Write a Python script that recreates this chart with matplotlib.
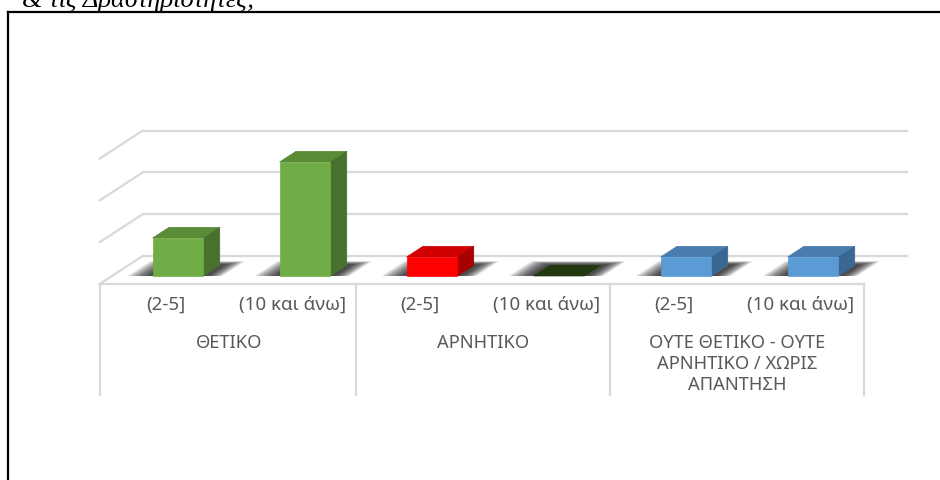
import matplotlib
matplotlib.use("Agg")
import matplotlib.pyplot as plt
from matplotlib.patches import Polygon
from matplotlib.lines import Line2D

# ---- data -------------------------------------------------------------
title = "& τις Δραστηριότητες;"
groups = ["ΘΕΤΙΚΟ", "ΑΡΝΗΤΙΚΟ", "ΟΥΤΕ ΘΕΤΙΚΟ - ΟΥΤΕ\nΑΡΝΗΤΙΚΟ / ΧΩΡΙΣ\nΑΠΑΝΤΗΣΗ"]
subcats = ["(2-5]", "(10 και άνω]"]
values = [2, 6, 1, 0, 1, 1]
grid_levels = [0, 2.2, 4.4, 6.6]

front_colors = ["#70AD47", "#70AD47", "#FF0000", "#22380F", "#5B9BD5", "#5B9BD5"]
top_colors = ["#5A8C38", "#5A8C38", "#D00000", "#22380F", "#4A7DAE", "#4A7DAE"]
side_colors = ["#47712C", "#47712C", "#A60000", "#22380F", "#3B6793", "#3B6793"]

# ---- layout -----------------------------------------------------------
W, H, DPI = 940, 480, 100
PLOT_LEFT, PLOT_W = 114.5, 762.0        # px, front plane of the bars
BASE_Y, UNIT_PX = 276.0, 19.0           # px from top, px per value unit
DEPTH_PX = (43.0, 28.0)                 # oblique depth vector of the floor
BAR_D0, BAR_DEPTH, BAR_HW = 0.286, 0.38, 0.2
XL, XR = -0.52, 5.5
GRID_C = "#D9D9D9"
TEXT_C = "#595959"

fig = plt.figure(figsize=(W / DPI, H / DPI), dpi=DPI)
fig.patch.set_facecolor("white")
ymax = grid_levels[-1]
ax = fig.add_axes([PLOT_LEFT / W, (H - BASE_Y) / H, PLOT_W / W, ymax * UNIT_PX / H])
n = len(values)
ax.set_xlim(-0.5, n - 0.5)
ax.set_ylim(0, ymax)
ax.axis("off")

px_x = PLOT_W / n
px_y = UNIT_PX
DX, DY = DEPTH_PX[0] / px_x, DEPTH_PX[1] / px_y


def P(x, y, d):
    """Project a point (x, value, depth) onto the axes plane."""
    return (x + (d - BAR_D0) * DX, y + (d - BAR_D0) * DY)


def seg(p, q, **kw):
    ax.add_line(Line2D([p[0], q[0]], [p[1], q[1]], clip_on=False, **kw))


# back wall, side wall and floor
for g in grid_levels:
    seg(P(XL, g, 1), P(XR, g, 1), color=GRID_C, lw=1.6, zorder=1)
    seg(P(XL, g, 1), P(XL, g, 0), color=GRID_C, lw=1.6, zorder=1)
seg(P(XL, 0, 0), P(XR, 0, 0), color=GRID_C, lw=1.6, zorder=1)

# category separators below the floor
sep_len = 111.0 / px_y
for x in [XL, 1.5, 3.5, XR]:
    p = P(x, 0, 0)
    seg(p, (p[0], p[1] - sep_len), color=GRID_C, lw=1.6, zorder=1)

# soft floor shadows
N_SH = 20
for i, v in enumerate(values):
    for k in range(N_SH):
        e = 1 - k / N_SH
        xl = i - BAR_HW - 0.02 - 0.18 * e
        xr = i + BAR_HW + 0.03 + 0.12 * e
        d0 = BAR_D0
        d1 = BAR_D0 + BAR_DEPTH + 0.03 + 0.12 * e
        poly = [P(xl, 0, d0), P(xr, 0, d0), P(xr, 0, d1), P(xl, 0, d1)]
        ax.add_patch(Polygon(poly, closed=True, facecolor="black", edgecolor="none",
                             alpha=0.055, zorder=2, clip_on=False))

# 3-D columns
d1 = BAR_D0 + BAR_DEPTH
for i, v in enumerate(values):
    a, b = i - BAR_HW, i + BAR_HW
    top = [P(a, v, BAR_D0), P(b, v, BAR_D0), P(b, v, d1), P(a, v, d1)]
    ax.add_patch(Polygon(top, closed=True, facecolor=top_colors[i],
                         edgecolor=top_colors[i], lw=0.5, zorder=3, clip_on=False))
    if v > 0:
        side = [P(b, 0, BAR_D0), P(b, 0, d1), P(b, v, d1), P(b, v, BAR_D0)]
        ax.add_patch(Polygon(side, closed=True, facecolor=side_colors[i],
                             edgecolor=side_colors[i], lw=0.5, zorder=3, clip_on=False))
        front = [P(a, 0, BAR_D0), P(b, 0, BAR_D0), P(b, v, BAR_D0), P(a, v, BAR_D0)]
        ax.add_patch(Polygon(front, closed=True, facecolor=front_colors[i],
                             edgecolor=front_colors[i], lw=0.5, zorder=4, clip_on=False))

# axis labels
FONT = "Noto Sans"
sub_off = 21.0 / px_y
grp_off = 50.0 / px_y
for i in range(n):
    p = P(i, 0, 0)
    ax.text(p[0], p[1] - sub_off, subcats[i % 2], ha="center", va="center",
            fontsize=13.5, color=TEXT_C, family=FONT, clip_on=False)
for gi, name in enumerate(groups):
    p = P(2 * gi + 0.5, 0, 0)
    ax.text(p[0], p[1] - grp_off, name, ha="center", va="top", fontsize=13.2,
            color=TEXT_C, family=FONT, linespacing=1.22, clip_on=False)

# frame and heading
fig.add_artist(Line2D([8 / W, 1.0], [1 - 12 / H, 1 - 12 / H], color="black",
                      lw=1.6, transform=fig.transFigure))
fig.add_artist(Line2D([8 / W, 8 / W], [1 - 12 / H, 0.0], color="black",
                      lw=1.6, transform=fig.transFigure))
fig.text(22 / W, 1 - 7 / H, title, ha="left", va="baseline", fontsize=19,
         style="italic", family="Liberation Serif", color="black")

fig.savefig("out.png", dpi=DPI, facecolor="white")
